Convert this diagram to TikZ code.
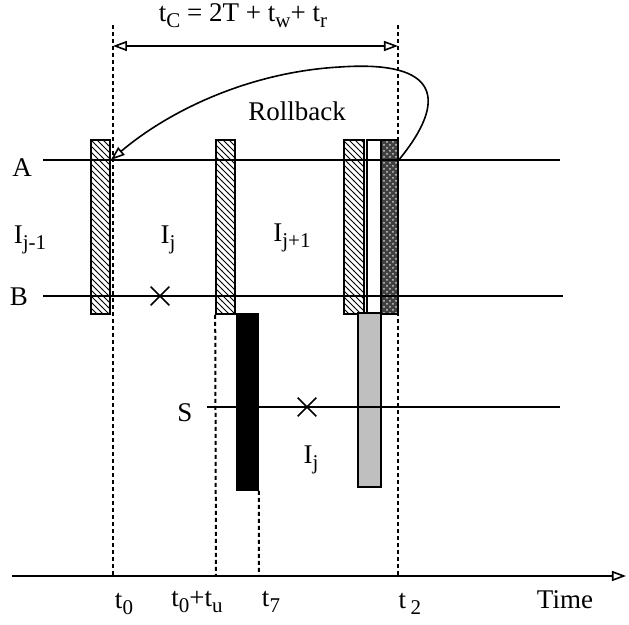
\documentclass[tikz,border=0pt]{standalone}
\usepackage{fontspec}
\setmainfont{Liberation Serif}
\usetikzlibrary{arrows.meta,patterns,shapes.misc}
\newcommand{\lowsub}[1]{\raisebox{-0.5ex}{\fontsize{10.5}{12}\selectfont #1}}

\begin{document}
\begin{tikzpicture}[x=0.5pt, y=-0.5pt,
  font=\fontsize{13.5}{16}\selectfont,
  ckpt/.style={draw, thick, pattern=north west lines, inner sep=0pt, minimum width=9.5pt, minimum height=87pt},
  slab/.style={draw, thick, inner sep=0pt, minimum height=87pt},
  procline/.style={thick},
  guide/.style={dash pattern=on 2pt off 1.5pt, line width=1pt},
  oarr/.style={-{Triangle[open, length=7pt, width=5pt]}, thick},
  xmark/.style={cross out, draw, thick, minimum size=8.5pt, inner sep=0pt}
]
  \useasboundingbox (0,0) rectangle (629,625);

  % checkpoint boxes
  \node[ckpt] (ck1) at (100.5,227) {};
  \node[ckpt] (ck2) at (225.5,227) {};
  \node[ckpt, minimum width=10pt] (ck3) at (354,227) {};
  \node[slab, minimum width=7pt] (wb) at (374,227) {};
  \node[slab, minimum width=8.5pt, preaction={fill=black!75}, pattern=crosshatch dots, pattern color=white!80!black] (rb) at (389.5,227) {};
  \node[slab, minimum width=10.5pt, fill=black, minimum height=88pt] (blk) at (247.5,402) {};
  \node[slab, minimum width=11.5pt, fill=black!25] (gry) at (369.5,400) {};

  % process lines
  \node (A) at (22,168) {A};
  \node (B) at (19,297) {B};
  \node (S) at (185,413) {S};
  \coordinate (Ae) at (560,160);
  \coordinate (Be) at (563,296);
  \coordinate (Se) at (560,407);
  \draw[procline] (43,160) -- (Ae);
  \draw[procline] (43,296) -- (Be);
  \draw[procline] (207,407) -- (Se);

  % time axis and guides
  \coordinate (t0) at (113,576);
  \coordinate (tu) at (216,576);
  \coordinate (t7) at (259,576);
  \coordinate (t2) at (398,576);
  \draw[oarr] (12,576) -- (626,576);
  \draw[guide] (113,25) -- (t0);
  \draw[guide] (398,25) -- (t2);
  \draw[guide] (ck2.south west) -- (tu);
  \draw[guide] (blk.south east) -- (t7);

  \node (l0) at (124,604) {t\lowsub{0}};
  \node (lu) at (197,602) {t\lowsub{0}+t\lowsub{u}};
  \node (l7) at (271,602) {t\lowsub{7}};
  \node (l2) at (410,604) {t\,\lowsub{2}};
  \node (time) at (565,600) {Time};

  % cycle length
  \coordinate (cl) at (113,46);
  \coordinate (cr) at (398,46);
  \draw[thick, {Triangle[open, length=7pt, width=5pt]}-{Triangle[open, length=7pt, width=5pt]}] (cl) -- (cr);
  \node (tc) at (243,16) {t\lowsub{C} = 2T + t\lowsub{w}+ t\lowsub{r}};

  % intervals
  \node (i0) at (30,240) {I\lowsub{j-1}};
  \node (i1) at (168,240) {I\lowsub{j}};
  \node (i2) at (292,238) {I\lowsub{j+1}};
  \node (i3) at (311,460) {I\lowsub{j}};

  % failures
  \node[xmark] (f1) at (160,296) {};
  \node[xmark] (f2) at (307,407) {};

  % rollback
  \node (rlbl) at (297,111) {Rollback};
  \draw[oarr] (rb.east |- Ae) .. controls (448,100) and (440,60) .. (340,67)
    .. controls (250,72) and (170,110) .. (ck1.east |- Ae);
\end{tikzpicture}
\end{document}
